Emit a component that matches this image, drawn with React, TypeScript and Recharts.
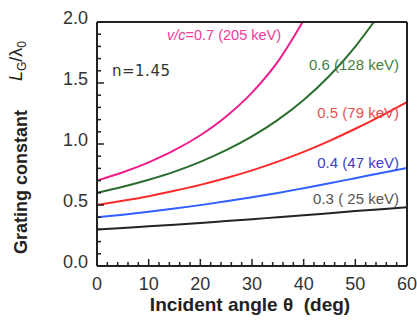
import React from 'react';
import { LineChart, Line, XAxis, YAxis } from 'recharts';

// incident angle (deg) sample points
const angles = [0, 5, 10, 15, 20, 25, 30, 35, 40, 45, 50, 55, 60];
const angles06 = [0, 5, 10, 15, 20, 25, 30, 35, 40, 45, 50, 53.6];
const angles07 = [0, 5, 10, 15, 20, 25, 30, 35, 39.8];

// grating constant L_G / lambda_0
const beta03 = [0.3, 0.312, 0.325, 0.338, 0.352, 0.368, 0.383, 0.4, 0.416, 0.433, 0.45, 0.466, 0.481];
const beta04 = [0.4, 0.421, 0.445, 0.471, 0.499, 0.53, 0.563, 0.599, 0.638, 0.678, 0.72, 0.762, 0.804];
const beta05 = [0.5, 0.534, 0.572, 0.616, 0.665, 0.721, 0.784, 0.856, 0.936, 1.026, 1.125, 1.231, 1.344];
const beta06 = [0.6, 0.649, 0.707, 0.774, 0.854, 0.949, 1.062, 1.198, 1.361, 1.559, 1.799, 2.0];
const beta07 = [0.7, 0.768, 0.85, 0.949, 1.072, 1.226, 1.421, 1.675, 2.0];

const angleTicks = [0, 2, 4, 6, 8, 10, 12, 14, 16, 18, 20, 22, 24, 26, 28, 30, 32, 34, 36, 38, 40, 42, 44, 46, 48, 50, 52, 54, 56, 58, 60];
const constantTicks = [0, 0.1, 0.2, 0.3, 0.4, 0.5, 0.6, 0.7, 0.8, 0.9, 1.0, 1.1, 1.2, 1.3, 1.4, 1.5, 1.6, 1.7, 1.8, 1.9, 2.0];

const toSeries = (xs: number[], ys: number[]) => xs.map((theta, i) => ({ theta, value: ys[i] }));

const FONT = '"Liberation Sans", Arial, sans-serif';
const AXIS = '#222';

const isMajorAngle = (v: number) => v % 10 === 0;
const isMajorConst = (v: number) => Math.abs(v * 2 - Math.round(v * 2)) < 1e-6;

const BottomTick = ({ x, y, payload }: any) => {
  const major = isMajorAngle(payload.value);
  return (
    <g>
      <line x1={x} x2={x} y1={y} y2={y - (major ? 7 : 4)} stroke={AXIS} strokeWidth={1.5} />
      {major && (
        <text x={x} y={y + 24} textAnchor="middle" fontSize={18} fontFamily={FONT} fill="#333">
          {payload.value}
        </text>
      )}
    </g>
  );
};

const TopTick = ({ x, y, payload }: any) => {
  const major = isMajorAngle(payload.value);
  return <line x1={x} x2={x} y1={y} y2={y + (major ? 7 : 4)} stroke={AXIS} strokeWidth={1.5} />;
};

const LeftTick = ({ x, y, payload }: any) => {
  const major = isMajorConst(payload.value);
  return (
    <g>
      <line x1={x} x2={x + (major ? 7 : 4)} y1={y} y2={y} stroke={AXIS} strokeWidth={1.5} />
      {major && (
        <text x={x - 9} y={y + 2} textAnchor="end" fontSize={18} fontFamily={FONT} fill="#333">
          {payload.value.toFixed(1)}
        </text>
      )}
    </g>
  );
};

const RightTick = ({ x, y, payload }: any) => {
  const major = isMajorConst(payload.value);
  return <line x1={x} x2={x - (major ? 7 : 4)} y1={y} y2={y} stroke={AXIS} strokeWidth={1.5} />;
};

export default function App() {
  return (
    <div style={{ position: 'absolute', left: 0, top: 0, width: 417, height: 321, background: '#fff' }}>
      <LineChart width={417} height={321} margin={{ top: 20, right: 8, bottom: 0, left: 0 }}>
        <XAxis
          dataKey="theta"
          type="number"
          domain={[0, 60]}
          ticks={angleTicks}
          interval={0}
          height={55}
          tickSize={0}
          tickMargin={0}
          tickLine={false}
          tick={<BottomTick />}
          axisLine={{ stroke: AXIS, strokeWidth: 2 }}
        />
        <XAxis
          xAxisId="top"
          orientation="top"
          dataKey="theta"
          type="number"
          domain={[0, 60]}
          ticks={angleTicks}
          interval={0}
          height={2}
          tickSize={0}
          tickMargin={0}
          tickLine={false}
          tick={<TopTick />}
          axisLine={{ stroke: AXIS, strokeWidth: 2 }}
        />
        <YAxis
          type="number"
          domain={[0, 2]}
          allowDataOverflow
          ticks={constantTicks}
          interval={0}
          width={97}
          tickSize={0}
          tickMargin={0}
          tickLine={false}
          tick={<LeftTick />}
          axisLine={{ stroke: AXIS, strokeWidth: 2 }}
        />
        <YAxis
          yAxisId="right"
          orientation="right"
          type="number"
          domain={[0, 2]}
          ticks={constantTicks}
          interval={0}
          width={2}
          tickSize={0}
          tickMargin={0}
          tickLine={false}
          tick={<RightTick />}
          axisLine={{ stroke: AXIS, strokeWidth: 2 }}
        />
        <Line data={toSeries(angles, beta03)} dataKey="value" type="monotone" stroke="#222" strokeWidth={2} dot={false} isAnimationActive={false} />
        <Line data={toSeries(angles, beta04)} dataKey="value" type="monotone" stroke="#3060ff" strokeWidth={2} dot={false} isAnimationActive={false} />
        <Line data={toSeries(angles, beta05)} dataKey="value" type="monotone" stroke="#ff2a2a" strokeWidth={2} dot={false} isAnimationActive={false} />
        <Line data={toSeries(angles06, beta06)} dataKey="value" type="monotone" stroke="#2a6e2e" strokeWidth={2} dot={false} isAnimationActive={false} />
        <Line data={toSeries(angles07, beta07)} dataKey="value" type="monotone" stroke="#f01e8c" strokeWidth={2} dot={false} isAnimationActive={false} />
      </LineChart>

      <svg width={417} height={321} style={{ position: 'absolute', left: 0, top: 0, pointerEvents: 'none' }}>
        {/* curve labels */}
        <text x={167} y={40} fontSize={14.5} fontFamily={FONT} fill="#f03c96">
          <tspan fontStyle="italic">v/c</tspan>=0.7 (205 keV)
        </text>
        <text x={399} y={70} textAnchor="end" fontSize={15} fontFamily={FONT} fill="#3f7f3f">0.6 (128 keV)</text>
        <text x={399} y={118} textAnchor="end" fontSize={15} fontFamily={FONT} fill="#e65050">0.5 (79 keV)</text>
        <text x={399} y={168} textAnchor="end" fontSize={15} fontFamily={FONT} fill="#3c3cc8">0.4 (47 keV)</text>
        <text x={399} y={204} textAnchor="end" fontSize={15} fontFamily={FONT} fill="#555" xmlSpace="preserve">0.3 ( 25 keV)</text>
        <text x={112} y={76} fontSize={15} fontFamily={'"DejaVu Sans", sans-serif'} letterSpacing={0.5} fill="#333">n=1.45</text>

        {/* axis titles */}
        <text x={250} y={311} textAnchor="middle" fontSize={19} fontWeight="bold" fontFamily={FONT} fill="#222" xmlSpace="preserve">
          {'Incident angle θ  (deg)'}
        </text>
        <text x={27} y={182} transform="rotate(-90 27 182)" textAnchor="middle" fontSize={18} fontWeight="bold" fontFamily={FONT} fill="#222">
          Grating constant
        </text>
        <text x={22} y={61} transform="rotate(-90 22 61)" textAnchor="middle" fontSize={18} fontFamily={FONT} fill="#222">
          <tspan fontStyle="italic">L</tspan>
          <tspan fontSize={12} dy={4}>G</tspan>
          <tspan dy={-4}>/λ</tspan>
          <tspan fontSize={12} dy={4}>0</tspan>
        </text>
      </svg>
    </div>
  );
}
